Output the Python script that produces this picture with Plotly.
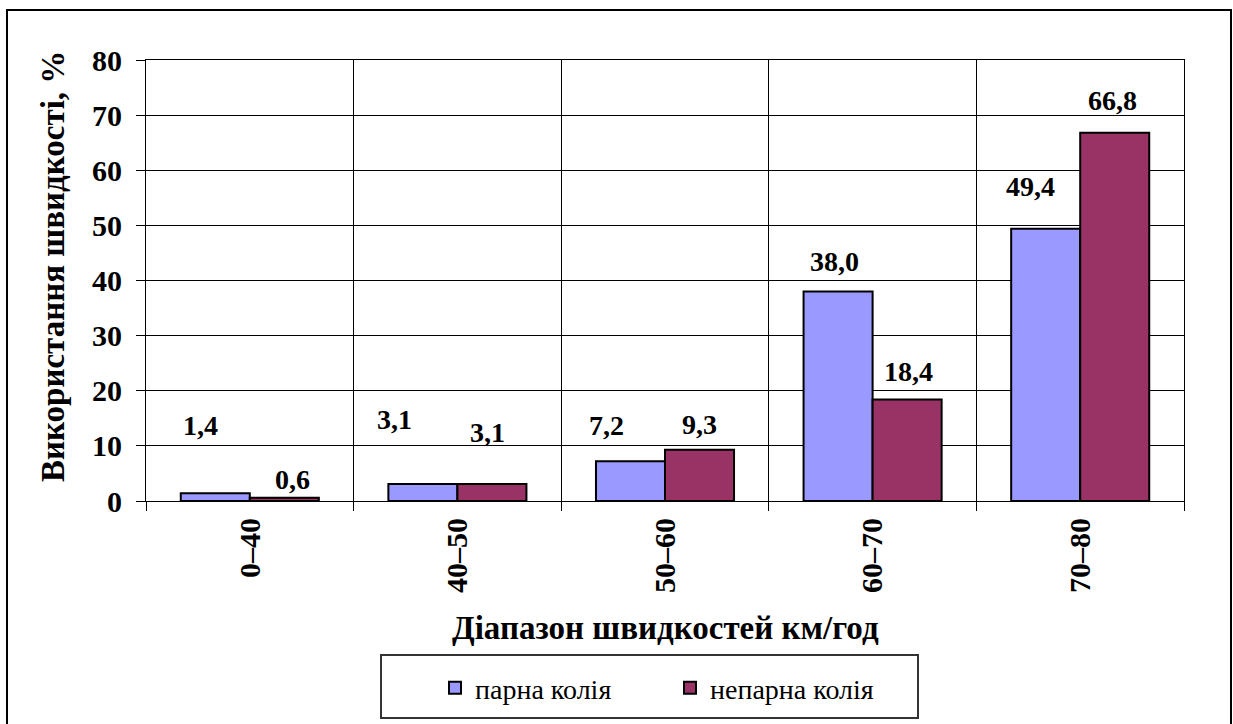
import plotly.graph_objects as go

# Speed ranges and share of speed usage (%) for each track
categories = ["0–40", "40–50", "50–60", "60–70", "70–80"]
even_track = [1.4, 3.1, 7.2, 38.0, 49.4]
odd_track = [0.6, 3.1, 9.3, 18.4, 66.8]
series_names = ["парна колія", "непарна колія"]
y_ticks = [0, 10, 20, 30, 40, 50, 60, 70, 80]
x_title = "Діапазон швидкостей км/год"
y_title = "Використання швидкості, %"

# label placement tweaks (pixels) relative to each bar's top centre
even_dx = [-15, -28, -24, -4, -15]
even_dy = [68, 64, 36, 30, 42]
odd_dx = [8, -4, 0, 1, -2]
odd_dy = [18, 51, 25, 28, 32]

W, H = 1233, 724
L, R, T, B = 146, 49, 60, 223
pw, ph = W - L - R, H - T - B
BAR_PX = 69  # width of one bar in pixels (bargap drives it)

def px_to_paper_x(px):
    return (px - L) / pw

def px_to_paper_y(py):
    return (H - B - py) / ph

FONT = "Liberation Serif"

fig = go.Figure()
fig.add_bar(x=categories, y=even_track, name=series_names[0],
            marker=dict(color="#9999FF", line=dict(color="black", width=2)))
fig.add_bar(x=categories, y=odd_track, name=series_names[1],
            marker=dict(color="#993366", line=dict(color="black", width=2)))

def fmt(v):
    return f"{v:.1f}".replace(".", ",")

for vals, dxs, dys, side in [(even_track, even_dx, even_dy, -1), (odd_track, odd_dx, odd_dy, 1)]:
    for cat, v, dx, dy in zip(categories, vals, dxs, dys):
        fig.add_annotation(x=cat, y=v, text=fmt(v), showarrow=False,
                           xshift=side * BAR_PX / 2 + dx, yshift=dy,
                           font=dict(family=FONT, size=28, color="black", weight="bold"),
                           xanchor="center", yanchor="middle")

# axis titles
fig.add_annotation(xref="paper", yref="paper", x=px_to_paper_x(665), y=px_to_paper_y(628),
                   text=x_title, showarrow=False,
                   font=dict(family=FONT, size=33, color="black", weight="bold"),
                   xanchor="center", yanchor="middle")
fig.add_annotation(xref="paper", yref="paper", x=px_to_paper_x(53), y=px_to_paper_y(267),
                   text=y_title, showarrow=False, textangle=-90,
                   font=dict(family=FONT, size=33, color="black", weight="bold"),
                   xanchor="center", yanchor="middle")

# outer chart frame
fig.add_shape(type="rect", xref="paper", yref="paper",
              x0=px_to_paper_x(7), x1=px_to_paper_x(1231),
              y0=px_to_paper_y(740), y1=px_to_paper_y(10),
              line=dict(color="black", width=2), layer="below")
# legend frame
fig.add_shape(type="rect", xref="paper", yref="paper",
              x0=px_to_paper_x(381), x1=px_to_paper_x(918),
              y0=px_to_paper_y(718), y1=px_to_paper_y(655),
              line=dict(color="#333333", width=2))

fig.update_layout(
    width=W, height=H,
    margin=dict(l=L, r=R, t=T, b=B, autoexpand=False),
    paper_bgcolor="white", plot_bgcolor="white",
    barmode="group", bargap=0.335, bargroupgap=0,
    font=dict(family=FONT, color="black"),
    showlegend=True,
    legend=dict(orientation="h", x=px_to_paper_x(435), y=px_to_paper_y(688),
                xanchor="left", yanchor="middle",
                font=dict(family=FONT, size=28, color="black"),
                bgcolor="rgba(0,0,0,0)", entrywidth=190, itemwidth=30,
                traceorder="normal"),
    xaxis=dict(type="category", tickson="boundaries", ticks="outside", ticklen=9,
               tickcolor="black", tickwidth=1,
               showgrid=True, gridcolor="black", gridwidth=1,
               showline=True, linecolor="black", linewidth=1, mirror=True,
               tickangle=-90, ticklabelstandoff=4,
               tickfont=dict(family=FONT, size=30, weight="bold")),
    yaxis=dict(range=[0, 80], tickvals=y_ticks, ticks="outside", ticklen=9,
               tickcolor="black", tickwidth=1,
               showgrid=True, gridcolor="black", gridwidth=1,
               showline=True, linecolor="black", linewidth=1, mirror=True,
               zeroline=False, ticklabelstandoff=8,
               tickfont=dict(family=FONT, size=30, weight="bold")),
)

fig.write_html("out.html")
